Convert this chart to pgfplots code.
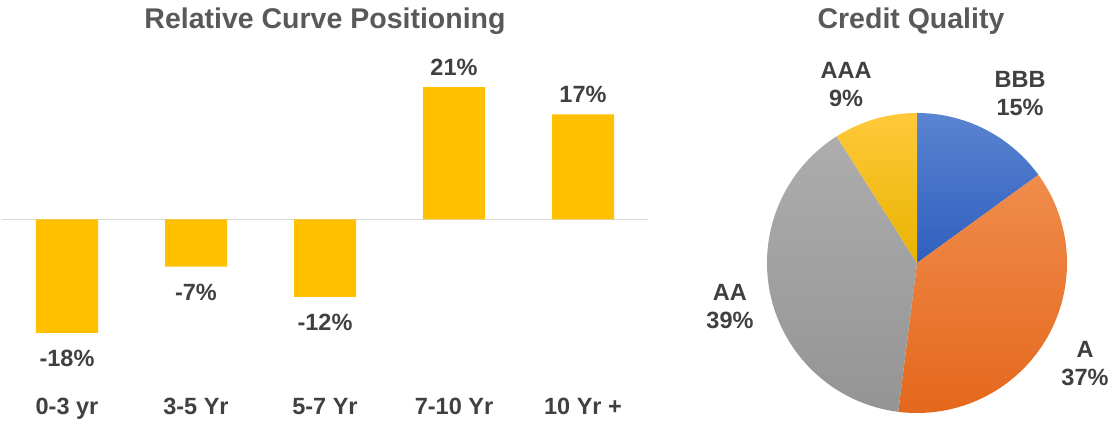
\documentclass[border=0pt]{standalone}
\usepackage{pgfplots}
\pgfplotsset{compat=1.18}
\usepackage{pgfplotstable}
\usepackage{fontspec}
\setmainfont{Liberation Sans}
\definecolor{barcol}{HTML}{FFC000}
\definecolor{txt}{HTML}{404040}
\definecolor{ttl}{HTML}{595959}
\definecolor{zline}{HTML}{D9D9D9}
\definecolor{blueT}{HTML}{5A84D0}
\definecolor{blueB}{HTML}{2F5FBF}
\definecolor{orT}{HTML}{F08C4C}
\definecolor{orB}{HTML}{E4681C}
\definecolor{grT}{HTML}{ADADAD}
\definecolor{grB}{HTML}{949494}
\definecolor{goT}{HTML}{FFC93A}
\definecolor{goB}{HTML}{E9B300}

\pgfplotstableread{
x y label
0 -18 -18
1 -7.5 -7
2 -12.3 -12
}\negbars
\pgfplotstableread{
x y label
3 21 21
4 16.7 17
}\posbars

\begin{document}
\begin{tikzpicture}[x=1pt,y=1pt]
\useasboundingbox (0,0) rectangle (1110,423);
\node[anchor=base, font=\fontsize{28.5}{32}\selectfont\bfseries, text=ttl] at (325,394.7) {Relative Curve Positioning};
\node[anchor=base, font=\fontsize{28.5}{32}\selectfont\bfseries, text=ttl] at (911,394.7) {Credit Quality};

\begin{axis}[
  at={(2.5pt,31.2pt)}, anchor=south west,
  width=645pt, height=348.7pt, scale only axis,
  xmin=-0.5, xmax=4.5, ymin=-27.35, ymax=28,
  axis line style={draw=none}, major tick length=0pt,
  ytick=\empty,
  xtick={0,1,2,3,4},
  xticklabels={0-3 yr,3-5 Yr,5-7 Yr,7-10 Yr,10 Yr +},
  xticklabel style={font=\fontsize{23.5}{28}\selectfont\bfseries, text=txt, yshift=-3pt},
  clip=false,
]
\draw[zline, line width=1.5pt] (axis cs:-0.5,0) -- (axis cs:4.5,0);
\addplot[ybar, bar width=62pt, bar shift=0pt, fill=barcol, draw=none,
  point meta=explicit symbolic,
  nodes near coords={\pgfplotspointmeta\%},
  every node near coord/.append style={anchor=north, yshift=-14pt, font=\fontsize{23.5}{28}\selectfont\bfseries, text=txt}]
  table[x=x,y=y,meta=label] {\negbars};
\addplot[ybar, bar width=62pt, bar shift=0pt, fill=barcol, draw=none,
  point meta=explicit symbolic,
  nodes near coords={\pgfplotspointmeta\%},
  every node near coord/.append style={anchor=south, yshift=8pt, font=\fontsize{23.5}{28}\selectfont\bfseries, text=txt}]
  table[x=x,y=y,meta=label] {\posbars};
\end{axis}

\begin{axis}[
  at={(917pt,160pt)}, anchor=center,
  width=300pt, height=300pt, scale only axis,
  xmin=-1, xmax=1, ymin=-1, ymax=1,
  hide axis, clip=false,
]
% BBB 15%: 90 -> 36 ; A 37%: 36 -> -97.2 ; AA 39%: -97.2 -> -237.6 ; AAA 9%: -237.6 -> -270
\addplot[draw=none, top color=blueT, bottom color=blueB, domain=36:90, samples=60] ({cos(x)},{sin(x)}) -- (0,0) -- cycle;
\addplot[draw=none, top color=orT, bottom color=orB, domain=-97.2:36, samples=120] ({cos(x)},{sin(x)}) -- (0,0) -- cycle;
\addplot[draw=none, top color=grT, bottom color=grB, domain=-237.6:-97.2, samples=120] ({cos(x)},{sin(x)}) -- (0,0) -- cycle;
\addplot[draw=none, top color=goT, bottom color=goB, domain=-270:-237.6, samples=40] ({cos(x)},{sin(x)}) -- (0,0) -- cycle;
\node[align=center, font=\fontsize{23.5}{28}\selectfont\bfseries, text=txt] at (axis cs:0.687,1.127) {BBB\\15\%};
\node[align=center, font=\fontsize{23.5}{28}\selectfont\bfseries, text=txt] at (axis cs:-0.473,1.193) {AAA\\9\%};
\node[align=center, font=\fontsize{23.5}{28}\selectfont\bfseries, text=txt] at (axis cs:-1.247,-0.287) {AA\\39\%};
\node[align=center, font=\fontsize{23.5}{28}\selectfont\bfseries, text=txt] at (axis cs:1.12,-0.673) {A\\37\%};
\end{axis}
\end{tikzpicture}
\end{document}
